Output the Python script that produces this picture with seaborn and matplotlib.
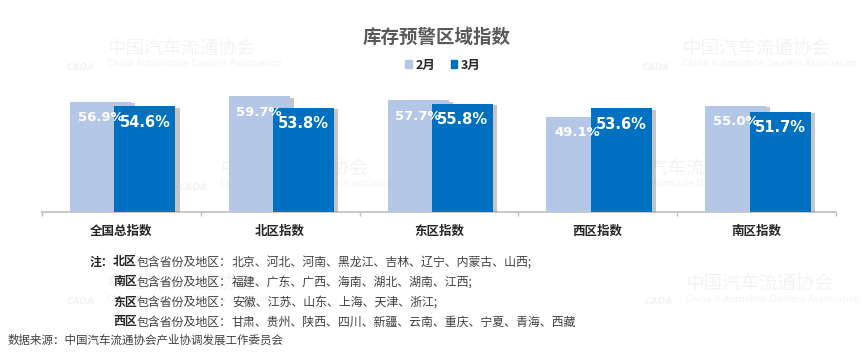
import matplotlib
matplotlib.use("Agg")
import matplotlib.pyplot as plt
import matplotlib.patheffects as pe
import numpy as np
import pandas as pd
import seaborn as sns

# data
REGIONS = ["全国总指数", "北区指数", "东区指数", "西区指数", "南区指数"]
FEB = [56.9, 59.7, 57.7, 49.1, 55.0]
MAR = [54.6, 53.8, 55.8, 53.6, 51.7]
MONTHS = ["2月", "3月"]
COLORS = {"2月": "#B4C7E7", "3月": "#0070C0"}

TITLE = "库存预警区域指数"
NOTE_HEAD = "注："
NOTE_ZONES = ["北区", "南区", "东区", "西区"]
NOTE_MID = "包含省份及地区："
NOTE_LISTS = [
    "北京、河北、河南、黑龙江、吉林、辽宁、内蒙古、山西;",
    "福建、广东、广西、海南、湖北、湖南、江西;",
    "安徽、江苏、山东、上海、天津、浙江;",
    "甘肃、贵州、陕西、四川、新疆、云南、重庆、宁夏、青海、西藏",
]
SOURCE = "数据来源：中国汽车流通协会产业协调发展工作委员会"
WM_CN = "中国汽车流通协会"
WM_EN = "China Automobile Dealers Association"

CJK = ["Noto Sans CJK SC", "DejaVu Sans"]

W, H = 865, 354


def fx(px):
    return px / W


def fy(py):
    return 1 - py / H


def main():
    sns.set_theme(style="white")
    plt.rcParams["font.family"] = CJK

    df = pd.DataFrame({
        "region": REGIONS * 2,
        "value": FEB + MAR,
        "month": [MONTHS[0]] * len(FEB) + [MONTHS[1]] * len(MAR),
    })

    fig = plt.figure(figsize=(W / 100, H / 100), dpi=100)
    ax = fig.add_axes([fx(42), fy(212), fx(836) - fx(42), (135.5) / H])
    ax.set_zorder(2)
    ax.patch.set_alpha(0)

    # faint association watermarks, kept behind the bars
    wm = "#F3F3F3"
    for x0, y0 in [(107, 50), (682, 50), (220, 170), (612, 170), (107, 285), (685, 285)]:
        fig.text(fx(x0), fy(y0), WM_CN, fontsize=13.3, color=wm,
                 ha="left", va="center", zorder=0)
        fig.text(fx(x0), fy(y0 + 14), WM_EN, fontsize=6.6, color=wm,
                 ha="left", va="center", zorder=0, family="DejaVu Sans")
        fig.text(fx(x0 - 40), fy(y0 + 17), "CADA", fontsize=6.5, color=wm,
                 ha="left", va="center", style="italic", weight="bold",
                 zorder=0, family="DejaVu Sans")

    sns.barplot(data=df, x="region", y="value", hue="month", palette=COLORS,
                width=0.56, saturation=1, ax=ax, legend=False, zorder=3)

    bar_w = 0.384
    shadow = [pe.SimplePatchShadow(offset=(3, -1), shadow_rgbFace="#7F7F7F", alpha=0.45),
              pe.Normal()]
    for patch in list(ax.patches):
        if patch.get_height() <= 0:
            continue
        center = patch.get_x() + patch.get_width() / 2
        cat = int(round(center))
        is_feb = center < cat
        new_c = cat - 0.132 if is_feb else cat + 0.148
        patch.set_x(new_c - bar_w / 2)
        patch.set_width(bar_w)
        patch.set_edgecolor("none")
        patch.set_path_effects(shadow)
        patch.set_zorder(3 if is_feb else 4)
        ax.annotate(f"{patch.get_height():.1f}%", xy=(new_c, patch.get_height()),
                    xytext=(0, -16), textcoords="offset pixels",
                    ha="center", va="center", color="white", weight="bold",
                    fontsize=9.5 if is_feb else 10.5, family="DejaVu Sans",
                    zorder=6)

    ax.set_xlim(-0.5, len(REGIONS) - 0.5)
    ax.set_ylim(0, 70)
    ax.set_xlabel("")
    ax.set_ylabel("")
    ax.set_yticks([])
    for s in ["top", "right", "left"]:
        ax.spines[s].set_visible(False)
    ax.spines["bottom"].set_color("#BFBFBF")
    ax.spines["bottom"].set_linewidth(1.2)
    ax.set_xticks(range(len(REGIONS)))
    ax.set_xticklabels(REGIONS, fontsize=9, weight="bold", color="#262626")
    ax.tick_params(axis="x", which="major", length=0, pad=9)
    ax.set_xticks(np.arange(-0.5, len(REGIONS), 1.0), minor=True)
    ax.tick_params(axis="x", which="minor", length=3, width=1, color="#BFBFBF",
                   direction="out", bottom=True)

    fig.text(fx(437), fy(37), TITLE, fontsize=13.3, weight="bold", color="#595959",
             ha="center", va="center", zorder=3)

    handles = [plt.Rectangle((0, 0), 1, 1, color=COLORS[m]) for m in MONTHS]
    leg = fig.legend(handles, MONTHS, loc="center", bbox_to_anchor=(fx(443), fy(65)),
                     ncol=2, frameon=False, handlelength=0.55, handleheight=0.55,
                     handletextpad=0.3, columnspacing=1.2,
                     prop={"family": CJK, "weight": "bold", "size": 9})
    leg.set_zorder(3)

    # notes block
    ys = [262, 282, 302, 322]
    fig.text(fx(90), fy(ys[0]), NOTE_HEAD, fontsize=8.6, weight="bold",
             color="#262626", ha="left", va="center", zorder=3)
    for y, zone, lst in zip(ys, NOTE_ZONES, NOTE_LISTS):
        t1 = fig.text(fx(113), fy(y), zone, fontsize=8.6, weight="bold",
                      color="#262626", ha="left", va="center", zorder=3)
        t2 = ax.annotate(NOTE_MID, xy=(1, 0), xycoords=t1, ha="left", va="bottom",
                         fontsize=8.6, color="#404040", annotation_clip=False)
        ax.annotate(lst, xy=(1, 0), xycoords=t2, ha="left", va="bottom",
                    fontsize=8.6, color="#404040", annotation_clip=False)

    fig.text(fx(8), fy(340), SOURCE, fontsize=8.3, color="#404040",
             ha="left", va="center", zorder=3)

    fig.savefig("out.png", dpi=100)
    plt.close(fig)


if __name__ == "__main__":
    main()
